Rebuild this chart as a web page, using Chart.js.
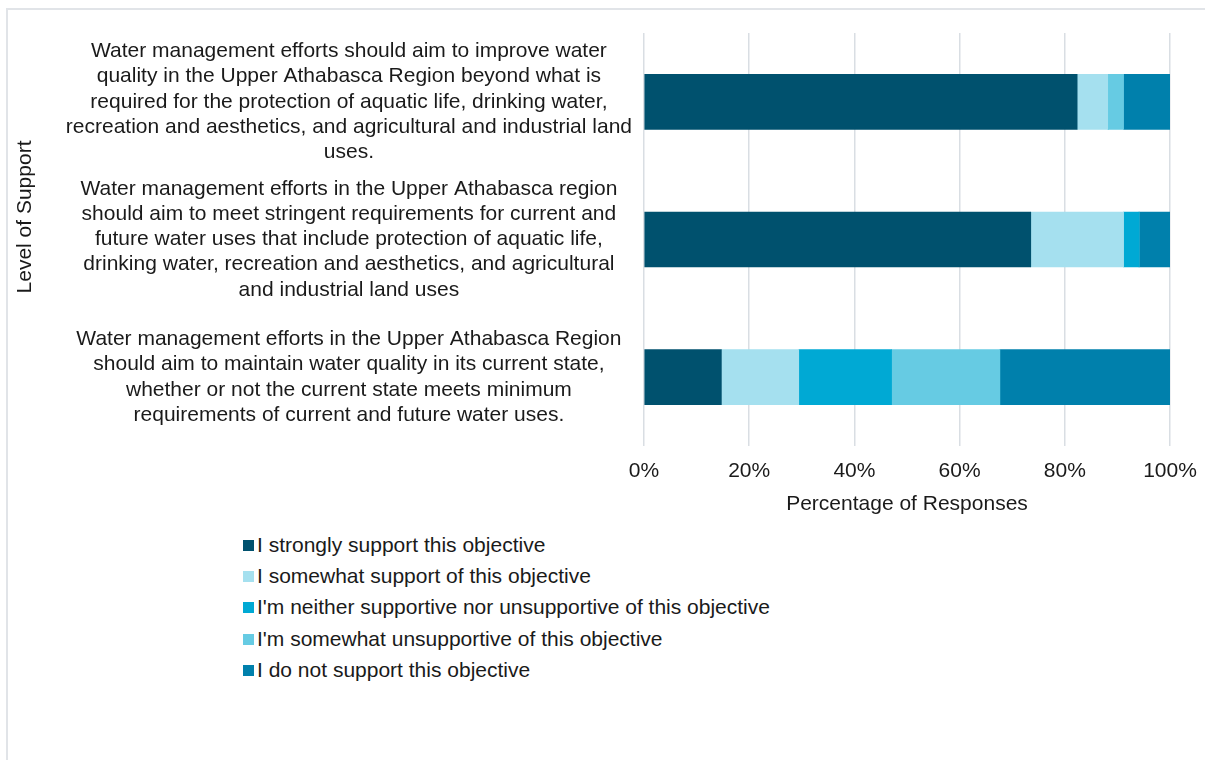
<!DOCTYPE html>
<html>
<head>
<meta charset="utf-8">
<script src="https://cdn.jsdelivr.net/npm/chart.js@4.4.1/dist/chart.umd.min.js"></script>
<style>
  html, body { margin: 0; padding: 0; background: #fff; }
  body { width: 1205px; height: 760px; position: relative; overflow: hidden; font-family: "Liberation Sans", Arial, sans-serif; }
  #frame { position: absolute; left: 6px; top: 8px; right: -4px; bottom: -4px; border-left: 2px solid #E1E4E8; border-top: 2px solid #E1E4E8; }
  #myChart { position: absolute; left: 0; top: 0; }
  #legend { position: absolute; left: 243px; top: 530px; list-style: none; margin: 0; padding: 0; }
  #legend li { height: 31.2px; line-height: 30px; font-size: 21px; color: #1a1a1a; white-space: nowrap; }
  #legend span.box { display: inline-block; width: 11px; height: 11px; margin-right: 3px; vertical-align: 1px; }
</style>
</head>
<body>
<div id="frame"></div>
<canvas id="myChart" width="1205" height="530"></canvas>
<ul id="legend"></ul>
<script>
// statements on the y axis (multi-line labels)
const statements = [
  ["Water management efforts should aim to improve water",
   "quality in the Upper Athabasca Region beyond what is",
   "required for the protection of aquatic life, drinking water,",
   "recreation and aesthetics, and agricultural and industrial land",
   "uses."],
  ["Water management efforts in the Upper Athabasca region",
   "should aim to meet stringent requirements for current and",
   "future water uses that include protection of aquatic life,",
   "drinking water, recreation and aesthetics, and agricultural",
   "and industrial land uses"],
  ["Water management efforts in the Upper Athabasca Region",
   "should aim to maintain water quality in its current state,",
   "whether or not the current state meets minimum",
   "requirements of current and future water uses."]
];

const responseNames = [
  "I strongly support this objective",
  "I somewhat support of this objective",
  "I'm neither supportive nor unsupportive of this objective",
  "I'm somewhat unsupportive of this objective",
  "I do not support this objective"
];

// share of responses (%) per statement
const stronglySupport   = [82.35, 73.53, 14.71];
const somewhatSupport   = [5.88, 17.65, 14.71];
const neither           = [0, 2.94, 17.65];
const somewhatUnsupport = [2.94, 0, 20.59];
const doNotSupport      = [8.82, 5.88, 32.35];

const xTicks = [0, 20, 40, 60, 80, 100];

const colors = ["#00516E", "#A5E0EF", "#00A9D4", "#66CBE3", "#0080AC"];
const seriesData = [stronglySupport, somewhatSupport, neither, somewhatUnsupport, doNotSupport];

const FONT = "'Liberation Sans', Arial, sans-serif";

const datasets = responseNames.map((name, i) => ({
  label: name,
  data: seriesData[i],
  backgroundColor: colors[i],
  borderWidth: 0,
  barThickness: 55
}));

// rotated y title drawn beside the labels
const yTitle = {
  id: 'yTitle',
  afterDraw(chart) {
    const ctx = chart.ctx;
    ctx.save();
    ctx.translate(25, 217);
    ctx.rotate(-Math.PI / 2);
    ctx.font = "21px " + FONT;
    ctx.fillStyle = "#1a1a1a";
    ctx.textAlign = "center";
    ctx.textBaseline = "middle";
    ctx.fillText("Level of Support", 0, 0);
    ctx.restore();
  }
};

const chart = new Chart(document.getElementById('myChart'), {
  type: 'bar',
  data: { labels: statements, datasets: datasets },
  plugins: [yTitle],
  options: {
    indexAxis: 'y',
    responsive: false,
    animation: false,
    layout: { padding: { top: 33, right: 35, bottom: 13, left: 0 } },
    plugins: {
      legend: { display: false },
      tooltip: { enabled: false }
    },
    scales: {
      x: {
        stacked: true,
        min: 0,
        max: 100,
        afterBuildTicks: (scale) => { scale.ticks = xTicks.map(v => ({ value: v })); },
        afterFit: (scale) => { scale.height = 71; scale.paddingLeft = 0; scale.paddingRight = 0; },
        grid: { color: "#D9DEE3", lineWidth: 1.5, drawTicks: false },
        border: { display: false },
        ticks: {
          padding: 13,
          color: "#1a1a1a",
          font: { family: FONT, size: 21 },
          callback: (v) => v + "%"
        },
        title: {
          display: true,
          text: "Percentage of Responses",
          color: "#1a1a1a",
          font: { family: FONT, size: 21 },
          padding: { top: 1, bottom: 0 }
        }
      },
      y: {
        stacked: true,
        afterFit: (scale) => { scale.width = 644; scale.paddingTop = 0; scale.paddingBottom = 0; },
        grid: { display: false },
        border: { display: false },
        ticks: {
          crossAlign: 'center',
          padding: 4,
          color: "#1a1a1a",
          font: { family: FONT, size: 21, lineHeight: 1.2 }
        }
      }
    }
  }
});

// vertical legend list under the chart
const legendEl = document.getElementById('legend');
chart.data.datasets.forEach((ds) => {
  const li = document.createElement('li');
  const box = document.createElement('span');
  box.className = 'box';
  box.style.background = ds.backgroundColor;
  li.appendChild(box);
  li.appendChild(document.createTextNode(ds.label));
  legendEl.appendChild(li);
});
</script>
</body>
</html>
